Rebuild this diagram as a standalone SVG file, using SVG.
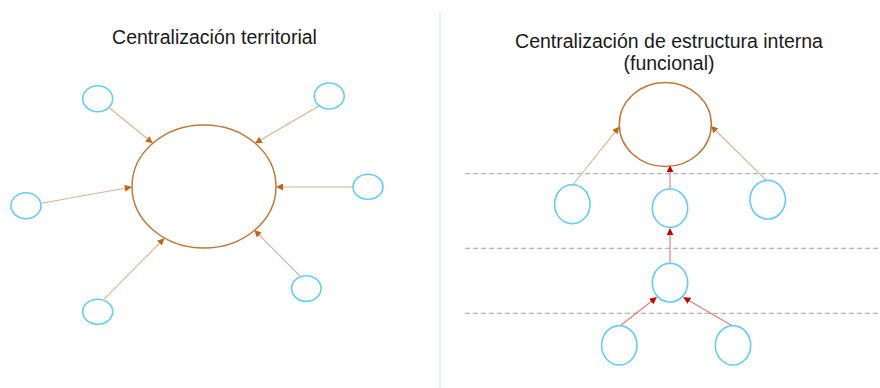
<svg xmlns="http://www.w3.org/2000/svg" width="880" height="388" viewBox="0 0 880 388">
<style>
.t{font-family:"Liberation Sans",Arial,sans-serif;font-size:19.5px;fill:#1a1a1a;text-anchor:middle}
.node{fill:none;stroke:#66ccf5;stroke-width:1.6}
.big{fill:none;stroke:#c0783a;stroke-width:1.5}
.ca{stroke:#e0b090;stroke-width:1.1;fill:none;marker-end:url(#mo)}
.cr{stroke:#e07a7a;stroke-width:1.1;fill:none;marker-end:url(#mr)}
.dash{stroke:#b4b4b4;stroke-width:1.2;stroke-dasharray:5 3;fill:none}
</style>
<defs>
<marker id="mo" viewBox="0 0 10 10" refX="10" refY="5" markerWidth="7" markerHeight="7" markerUnits="userSpaceOnUse" orient="auto"><path d="M0,0 L10,5 L0,10 z" fill="#c0661a"/></marker>
<marker id="mr" viewBox="0 0 10 10" refX="10" refY="5" markerWidth="7" markerHeight="7" markerUnits="userSpaceOnUse" orient="auto"><path d="M0,0 L10,5 L0,10 z" fill="#c00000"/></marker>
</defs>
<rect width="880" height="388" fill="#ffffff"/>
<line x1="440" y1="12" x2="440" y2="388" stroke="#d6e4f7" stroke-width="1.2"/>
<text class="t" x="214.5" y="43.5">Centralización territorial</text>
<text class="t" x="669" y="47.5">Centralización de estructura interna</text>
<text class="t" x="669" y="69.5">(funcional)</text>
<g id="dashes">
<line class="dash" x1="465" y1="173.7" x2="880" y2="173.7"/>
<line class="dash" x1="465" y1="248.3" x2="880" y2="248.3"/>
<line class="dash" x1="465" y1="313.3" x2="880" y2="313.3"/>
</g>
<g id="connectors">
<line class="ca" x1="109.3" y1="107.7" x2="152.7" y2="143.3"/>
<line class="ca" x1="319.3" y1="105.7" x2="255" y2="143.3"/>
<line class="ca" x1="352.7" y1="187" x2="276" y2="187"/>
<line class="ca" x1="41.3" y1="203.3" x2="131.7" y2="187"/>
<line class="ca" x1="104" y1="299.3" x2="164.3" y2="238.3"/>
<line class="ca" x1="300" y1="276" x2="254.3" y2="230"/>
<line class="ca" x1="572.7" y1="185" x2="619.3" y2="126.7"/>
<line class="ca" x1="766" y1="180" x2="711" y2="126"/>
<line class="cr" x1="670" y1="189" x2="670" y2="165.3"/>
<line class="cr" x1="670" y1="263.3" x2="670" y2="228.3"/>
<line class="cr" x1="620" y1="326" x2="656.7" y2="297.3"/>
<line class="cr" x1="732.7" y1="326" x2="683.3" y2="297.3"/>
</g>
<g id="center-left"><ellipse class="big" cx="204" cy="186.5" rx="72" ry="61.5"/></g>
<g id="n-tl"><ellipse class="node" cx="97.7" cy="98.7" rx="15" ry="13"/></g>
<g id="n-tr"><ellipse class="node" cx="329.2" cy="96" rx="15" ry="13"/></g>
<g id="n-r"><ellipse class="node" cx="368" cy="186.8" rx="15" ry="12.5"/></g>
<g id="n-l"><ellipse class="node" cx="26" cy="205.7" rx="15" ry="13"/></g>
<g id="n-bl"><ellipse class="node" cx="97.7" cy="311.8" rx="15" ry="12.5"/></g>
<g id="n-br"><ellipse class="node" cx="306.3" cy="288.5" rx="14.7" ry="12.8"/></g>
<g id="center-right"><ellipse class="big" cx="665.3" cy="124.5" rx="46" ry="42"/></g>
<g id="r2-left"><ellipse class="node" cx="572.3" cy="204.2" rx="17.7" ry="19.5"/></g>
<g id="r2-center"><ellipse class="node" cx="670" cy="208.2" rx="17.7" ry="19.2"/></g>
<g id="r2-right"><ellipse class="node" cx="767.7" cy="199.7" rx="17.7" ry="19.3"/></g>
<g id="r3-center"><ellipse class="node" cx="670" cy="282.7" rx="17.7" ry="19.3"/></g>
<g id="r4-left"><ellipse class="node" cx="619.3" cy="345.3" rx="17.7" ry="19.7"/></g>
<g id="r4-right"><ellipse class="node" cx="733" cy="345.3" rx="17.7" ry="19.7"/></g>
</svg>
